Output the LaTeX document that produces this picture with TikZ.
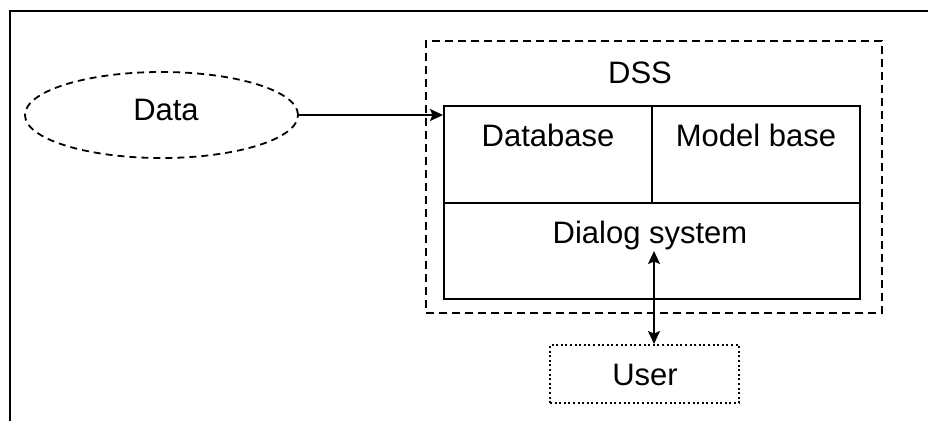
\documentclass[tikz,border=0pt]{standalone}
\usepackage{fontspec}
\setmainfont{Liberation Sans}
\usetikzlibrary{arrows.meta,shapes.geometric}
\tikzset{
  box/.style={draw, rectangle, line width=2pt, inner sep=0pt},
  dashbox/.style={box, dash pattern=on 8pt off 5pt},
  dotbox/.style={box, dash pattern=on 2pt off 2.6pt},
  txt/.style={inner sep=0pt, font=\fontsize{31}{36}\selectfont},
  conn/.style={line width=1.7pt},
  mytip/.tip={Stealth[length=13pt,width=12pt,inset=2.5pt]}
}
\begin{document}
\begin{tikzpicture}[x=1pt,y=-1pt]
\useasboundingbox (0,0) rectangle (928,421);
% outer frame (cropped at right and bottom)
\draw[line width=2.2pt] (10,421) -- (10,11) -- (928,11);
% DSS container
\node[dashbox, minimum width=456pt, minimum height=272pt] (dss) at (654,177) {};
\node[txt] (dsslbl) at (640,73) {DSS};
% inner boxes
\node[box, minimum width=208pt, minimum height=97pt] (db) at (548,154.5) {};
\node[box, minimum width=208pt, minimum height=97pt] (mb) at (756,154.5) {};
\node[box, minimum width=416pt, minimum height=96pt] (dlg) at (652,251) {};
\node[txt] (dbl) at (548,135) {Database};
\node[txt] (mbl) at (756,135) {Model base};
\node[txt] (dlgl) at (650,235) {Dialog system};
% data ellipse
\node[draw, ellipse, line width=1.8pt, dash pattern=on 7pt off 5pt, minimum width=273pt, minimum height=86pt, inner sep=0pt] (data) at (161.5,115) {};
\node[txt] (datal) at (166,110) {Data};
% user box
\node[dotbox, minimum width=189pt, minimum height=58pt] (user) at (644.5,374) {};
\node[txt] (userl) at (645,375) {User};
% connectors
\draw[conn, -mytip] (data.east) -- (data.east -| db.west);
\coordinate (ua) at (654,251);
\draw[conn, mytip-mytip] (ua) -- (ua |- user.north);
\end{tikzpicture}
\end{document}
